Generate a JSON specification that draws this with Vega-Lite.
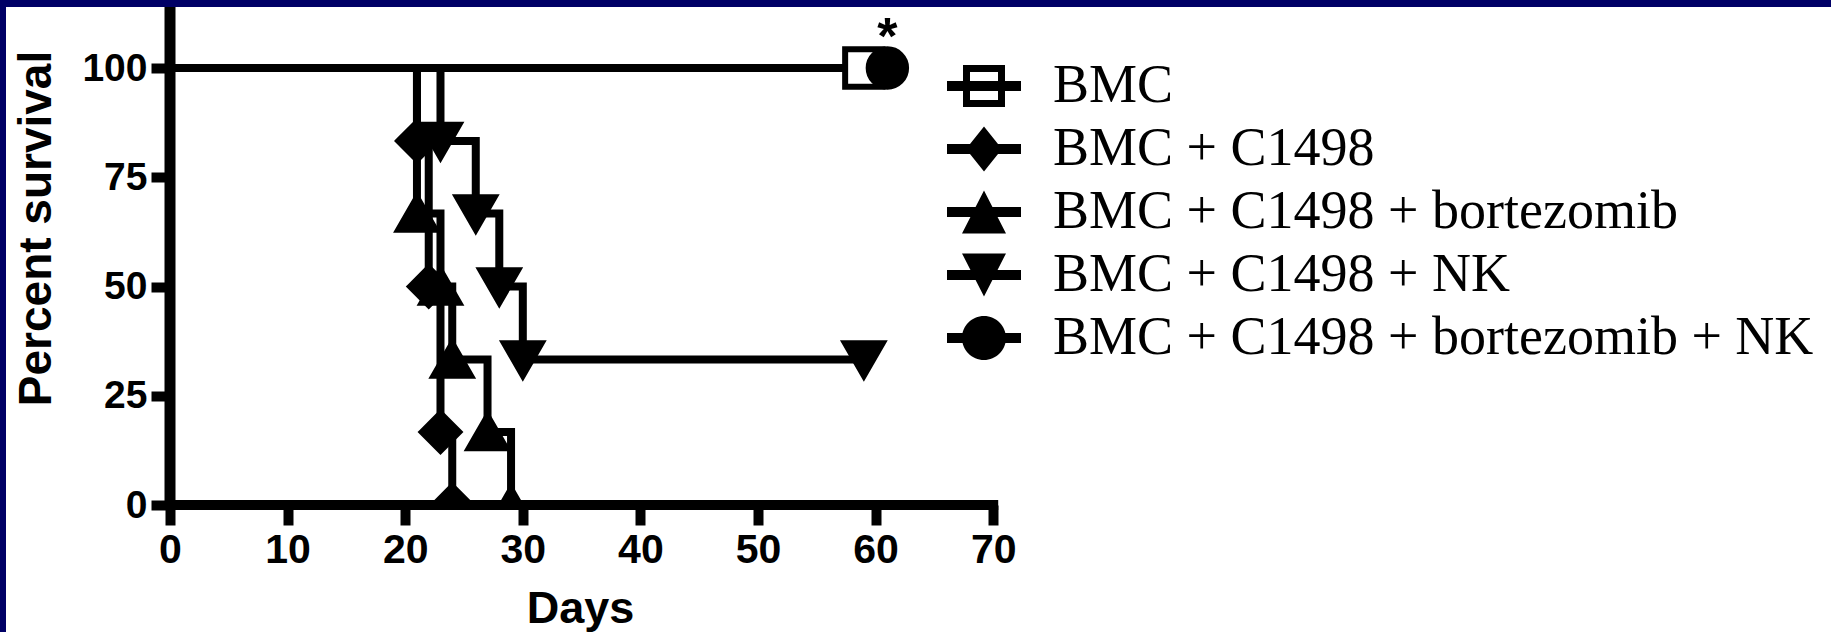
{
  "$schema": "https://vega.github.io/schema/vega-lite/v6.json",
  "autosize": {"type": "none"},
  "width": 1825,
  "height": 625,
  "padding": {"left": 6, "top": 7, "right": 0, "bottom": 0},
  "background": "#000066",
  "config": {"view": {"fill": "white", "stroke": null}},
  "datasets": {
    "km": [
      {"series": "BMC", "day": 0, "pct": 100},
      {"series": "BMC", "day": 59, "pct": 100},
      {"series": "BMC + C1498", "day": 0, "pct": 100},
      {"series": "BMC + C1498", "day": 21, "pct": 83.3},
      {"series": "BMC + C1498", "day": 22, "pct": 50},
      {"series": "BMC + C1498", "day": 23, "pct": 16.7},
      {"series": "BMC + C1498", "day": 24, "pct": 0},
      {"series": "BMC + C1498 + bortezomib", "day": 0, "pct": 100},
      {"series": "BMC + C1498 + bortezomib", "day": 21, "pct": 66.7},
      {"series": "BMC + C1498 + bortezomib", "day": 23, "pct": 50},
      {"series": "BMC + C1498 + bortezomib", "day": 24, "pct": 33.3},
      {"series": "BMC + C1498 + bortezomib", "day": 27, "pct": 16.7},
      {"series": "BMC + C1498 + bortezomib", "day": 29, "pct": 0},
      {"series": "BMC + C1498 + NK", "day": 0, "pct": 100},
      {"series": "BMC + C1498 + NK", "day": 23, "pct": 83.3},
      {"series": "BMC + C1498 + NK", "day": 26, "pct": 66.7},
      {"series": "BMC + C1498 + NK", "day": 28, "pct": 50},
      {"series": "BMC + C1498 + NK", "day": 30, "pct": 33.3},
      {"series": "BMC + C1498 + NK", "day": 59, "pct": 33.3},
      {"series": "BMC + C1498 + bortezomib + NK", "day": 0, "pct": 100},
      {"series": "BMC + C1498 + bortezomib + NK", "day": 61, "pct": 100}
    ],
    "note": [{"day": 61, "pct": 106.8, "label": "*"}]
  },
  "resolve": {"scale": {"shape": "independent"}, "legend": {"shape": "independent"}},
  "layer": [
    {
      "data": {"name": "km"},
      "mark": {"type": "line", "interpolate": "step-after", "color": "black", "strokeWidth": 8, "strokeJoin": "miter"},
      "encoding": {
        "x": {
          "field": "day", "type": "quantitative",
          "scale": {"domain": [-13.946, 141.24], "nice": false, "zero": false},
          "axis": {
            "orient": "bottom", "offset": -127, "values": [0, 10, 20, 30, 40, 50, 60, 70],
            "domain": false, "grid": false, "ticks": true, "tickSize": 20, "tickWidth": 10, "tickColor": "black",
            "labelFont": "Liberation Sans", "labelFontWeight": "bold", "labelFontSize": 41, "labelColor": "black",
            "labelPadding": 5, "labelFlush": false, "labelOverlap": false, "labelBound": false, "labelAngle": 0,
            "title": "Days", "titleFont": "Liberation Sans", "titleFontWeight": "bold", "titleFontSize": 45, "titleColor": "black",
            "titleX": 574, "titleY": 117, "titleBaseline": "alphabetic", "titleAlign": "center", "zindex": 1
          }
        },
        "y": {
          "field": "pct", "type": "quantitative",
          "scale": {"domain": [-29.06, 113.96], "nice": false, "zero": false},
          "axis": {
            "orient": "left", "offset": -164, "values": [0, 25, 50, 75, 100],
            "domain": false, "grid": false, "ticks": true, "tickSize": 19, "tickWidth": 10, "tickColor": "black",
            "labelFont": "Liberation Sans", "labelFontWeight": "bold", "labelFontSize": 39, "labelColor": "black",
            "labelPadding": 4, "labelFlush": false, "labelOverlap": false, "labelBound": false,
            "title": "Percent survival", "titleFont": "Liberation Sans", "titleFontWeight": "bold", "titleFontSize": 46, "titleColor": "black",
            "titleAngle": 270, "titleX": -120, "titleY": 221, "titleBaseline": "alphabetic", "titleAlign": "center", "zindex": 1
          }
        },
        "detail": {"field": "series", "type": "nominal"}
      }
    },
    {
      "data": {"name": "km"},
      "transform": [{"filter": "datum.day > 0"}],
      "mark": {"type": "point", "filled": true, "stroke": "black", "strokeWidth": 6, "size": 1400, "opacity": 1},
      "encoding": {
        "x": {"field": "day", "type": "quantitative"},
        "y": {"field": "pct", "type": "quantitative"},
        "shape": {
          "field": "series", "type": "nominal",
          "scale": {
            "domain": ["BMC", "BMC + C1498", "BMC + C1498 + bortezomib", "BMC + C1498 + NK", "BMC + C1498 + bortezomib + NK"],
            "range": ["square", "diamond", "triangle-up", "triangle-down", "circle"]
          },
          "legend": null
        },
        "fill": {"condition": {"test": "datum.series === 'BMC'", "value": "white"}, "value": "black"}
      }
    },
    {
      "data": {"name": "km"},
      "transform": [{"filter": "datum.day > 0"}],
      "mark": {"type": "point", "filled": true, "color": "black", "size": 1600, "opacity": 0},
      "encoding": {
        "x": {"field": "day", "type": "quantitative"},
        "y": {"field": "pct", "type": "quantitative"},
        "shape": {
          "field": "series", "type": "nominal",
          "scale": {
            "domain": ["BMC", "BMC + C1498", "BMC + C1498 + bortezomib", "BMC + C1498 + NK", "BMC + C1498 + bortezomib + NK"],
            "range": [
              "M-1.05,-1.05H1.05V1.05H-1.05ZM-0.7,-0.7V0.7H0.7V-0.7ZM-1.85,-0.25H1.85V0.25H-1.85Z",
              "M0,-1.12L0.9,0L0,1.12L-0.9,0ZM-1.85,-0.25H1.85V0.25H-1.85Z",
              "M0,-1.08L1.1,1.08H-1.1ZM-1.85,-0.25H1.85V0.25H-1.85Z",
              "M-1.1,-1.08H1.1L0,1.08ZM-1.85,-0.25H1.85V0.25H-1.85Z",
              "M-1.1,0A1.1,1.1,0,1,1,1.1,0A1.1,1.1,0,1,1,-1.1,0ZM-1.85,-0.25H1.85V0.25H-1.85Z"
            ]
          },
          "legend": {
            "orient": "none", "legendX": 951, "legendY": 52, "title": null, "padding": 0,
            "symbolSize": 1600, "symbolStrokeWidth": 0, "symbolFillColor": "black", "symbolOpacity": 1,
            "labelFont": "Liberation Serif", "labelFontSize": 54, "labelColor": "black", "labelLimit": 2000,
            "labelOffset": 42, "rowPadding": 9
          }
        }
      }
    },
    {
      "data": {"values": [{}]},
      "mark": {"type": "rect", "color": "white"},
      "encoding": {"x": {"datum": -1}, "x2": {"datum": 71}, "y": {"datum": -7}, "y2": {"datum": 0}}
    },
    {
      "data": {"values": [{}]},
      "mark": {"type": "rule", "color": "black", "strokeWidth": 11},
      "encoding": {"x": {"datum": 0}, "y": {"datum": 0}, "y2": {"datum": 113.96}}
    },
    {
      "data": {"values": [{}]},
      "mark": {"type": "rule", "color": "black", "strokeWidth": 10, "strokeCap": "square"},
      "encoding": {"x": {"datum": 0}, "x2": {"datum": 70}, "y": {"datum": 0}}
    },
    {
      "data": {"name": "note"},
      "mark": {"type": "text", "font": "Liberation Sans", "fontWeight": "bold", "fontSize": 52, "color": "black", "baseline": "middle", "align": "center"},
      "encoding": {
        "x": {"field": "day", "type": "quantitative"},
        "y": {"field": "pct", "type": "quantitative"},
        "text": {"field": "label", "type": "nominal"}
      }
    }
  ]
}
